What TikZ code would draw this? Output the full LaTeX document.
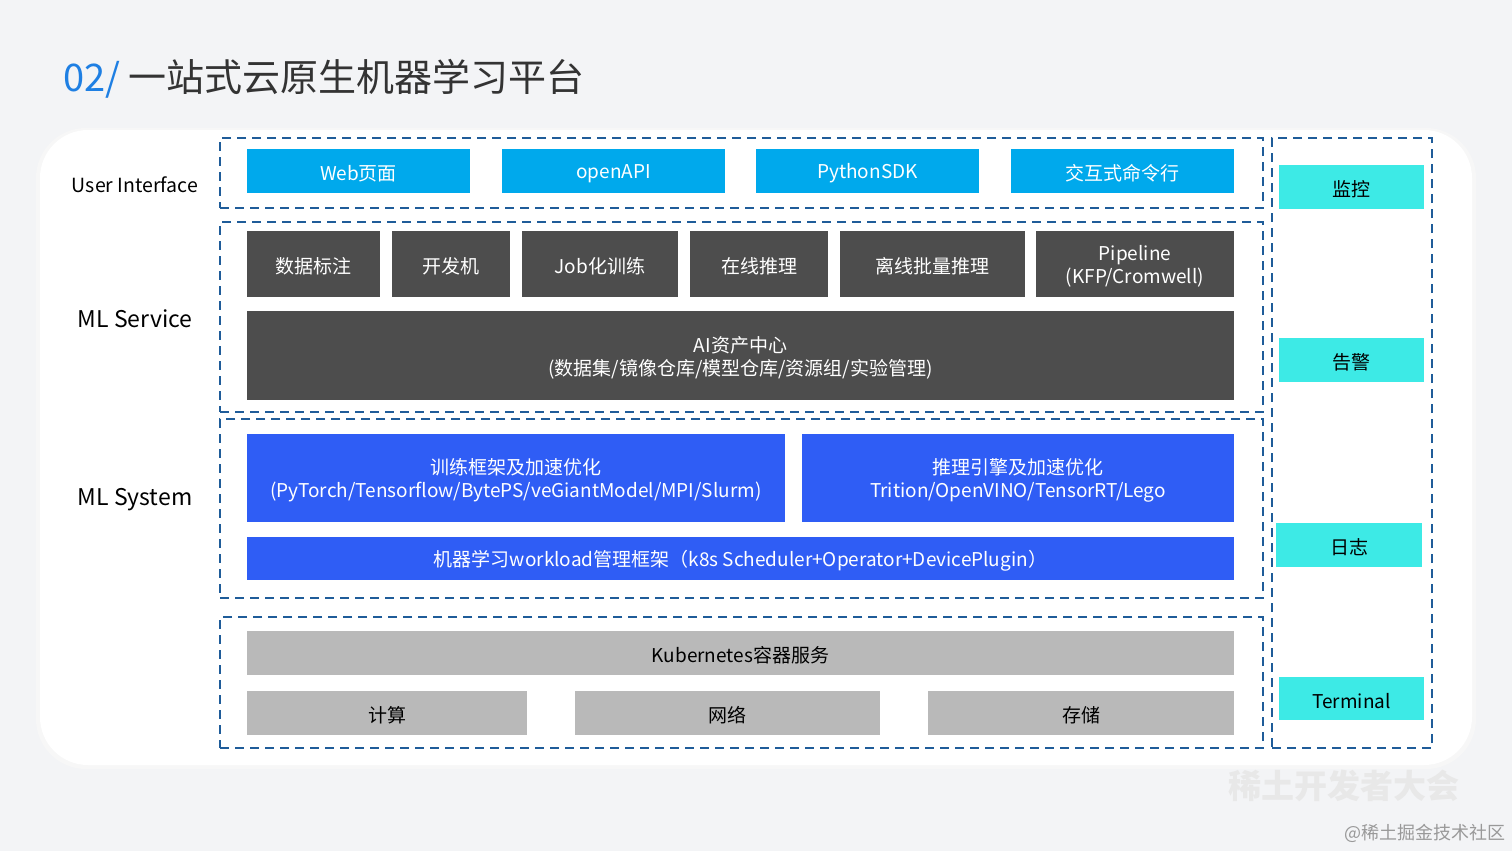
\documentclass[tikz,border=0pt]{standalone}
\usepackage{fontspec}
\setmainfont{Noto Sans CJK SC}
\definecolor{bgray}{HTML}{F3F4F6}
\definecolor{dashblue}{HTML}{1F5C99}
\definecolor{uiblue}{HTML}{00A9EC}
\definecolor{svcgray}{HTML}{4D4D4D}
\definecolor{sysblue}{HTML}{2F5DF5}
\definecolor{infgray}{HTML}{B9B9B9}
\definecolor{opscyan}{HTML}{3DEAE6}
\definecolor{titleblue}{HTML}{1E7FE3}
\definecolor{titlegray}{HTML}{333333}
\newcommand\bx[7]{\node[#6, minimum width={(#4-#2)*1pt}, minimum height={(#5-#3)*1pt}] (#1) at ({(#2+#4)/2},{(#3+#5)/2}) {};
  \node[#6, fill=none, draw=none, minimum width=0pt, minimum height=0pt] (#1t) at ([yshift=-2.5pt]#1.center) {#7};}
\tikzset{
  base/.style={rectangle, inner sep=0pt, outer sep=0pt, align=center, font=\fontsize{19}{23}\selectfont},
  dbox/.style={base, draw=dashblue, line width=1.8pt, dash pattern=on 9pt off 6pt},
  uibox/.style={base, fill=uiblue, text=white},
  svcbox/.style={base, fill=svcgray, text=white},
  sysbox/.style={base, fill=sysblue, text=white},
  infbox/.style={base, fill=infgray, text=black},
  opsbox/.style={base, fill=opscyan, text=black},
  layerlabel/.style={inner sep=0pt, text=black},
}
\begin{document}
\begin{tikzpicture}[x=1pt,y=-1pt]
\useasboundingbox (0,0) rectangle (1512,851);
\fill[bgray] (0,0) rectangle (1512,851);
\fill[white!97!black, rounded corners=50pt] (36,128) rectangle (1476,769);
\fill[white, rounded corners=48pt] (40,130) rectangle (1472,765);
% title
\node[anchor=west, inner sep=0pt, font=\fontsize{38}{40}\selectfont] (title) at (63,79)
  {\textcolor{titleblue}{02/}\hspace{8pt}\textcolor{titlegray}{一站式云原生机器学习平台}};
% dashed frames
\bx{ui}{220}{138}{1263}{208}{dbox}{}
\bx{svc}{220}{222}{1263}{412}{dbox}{}
\bx{sys}{220}{419}{1263}{598}{dbox}{}
\bx{inf}{220}{617}{1263}{748}{dbox}{}
\bx{ops}{1272}{138}{1432}{748}{dbox}{}
% layer labels
\node[layerlabel, font=\fontsize{19.5}{22}\selectfont] (luI) at (135,185) {User Interface};
\node[layerlabel, font=\fontsize{23}{26}\selectfont] (lsvc) at (135,319) {ML Service};
\node[layerlabel, font=\fontsize{23}{26}\selectfont] (lsys) at (135,500) {ML System};
% UI
\bx{web}{247}{149}{470}{193}{uibox}{Web页面}
\bx{api}{502}{149}{725}{193}{uibox}{openAPI}
\bx{sdk}{756}{149}{979}{193}{uibox}{PythonSDK}
\bx{cli}{1011}{149}{1234}{193}{uibox}{交互式命令行}
% ML service
\bx{label}{247}{231}{380}{297}{svcbox}{数据标注}
\bx{dev}{392}{231}{510}{297}{svcbox}{开发机}
\bx{job}{522}{231}{678}{297}{svcbox}{Job化训练}
\bx{online}{690}{231}{828}{297}{svcbox}{在线推理}
\bx{offline}{840}{231}{1025}{297}{svcbox}{离线批量推理}
\bx{pipe}{1036}{231}{1234}{297}{svcbox}{Pipeline\\(KFP/Cromwell)}
\bx{asset}{247}{311}{1234}{400}{svcbox}{AI资产中心\\(数据集/镜像仓库/模型仓库/资源组/实验管理)}
% ML system
\bx{train}{247}{434}{785}{522}{sysbox}{训练框架及加速优化\\(PyTorch/Tensorflow/BytePS/veGiantModel/MPI/Slurm)}
\bx{infer}{802}{434}{1234}{522}{sysbox}{推理引擎及加速优化\\Trition/OpenVINO/TensorRT/Lego}
\bx{wl}{247}{537}{1234}{580}{sysbox}{机器学习workload管理框架（k8s Scheduler+Operator+DevicePlugin）}
% infra
\bx{k8s}{247}{631}{1234}{675}{infbox}{Kubernetes容器服务}
\bx{cpu}{247}{691}{527}{735}{infbox}{计算}
\bx{net}{575}{691}{880}{735}{infbox}{网络}
\bx{sto}{928}{691}{1234}{735}{infbox}{存储}
% ops
\bx{mon}{1279}{165}{1424}{209}{opsbox}{监控}
\bx{alert}{1279}{338}{1424}{382}{opsbox}{告警}
\bx{log}{1276}{523}{1422}{567}{opsbox}{日志}
\bx{term}{1279}{677}{1424}{720}{opsbox}{Terminal}
% watermark
\node[inner sep=0pt, text=black!9, font=\fontsize{33}{35}\bfseries\selectfont] (wm) at (1344,786) {稀土开发者大会};
\node[inner sep=0pt, text=black!40, font=\fontsize{18}{20}\selectfont] (wm2) at (1425,833) {@稀土掘金技术社区};
\end{tikzpicture}
\end{document}
